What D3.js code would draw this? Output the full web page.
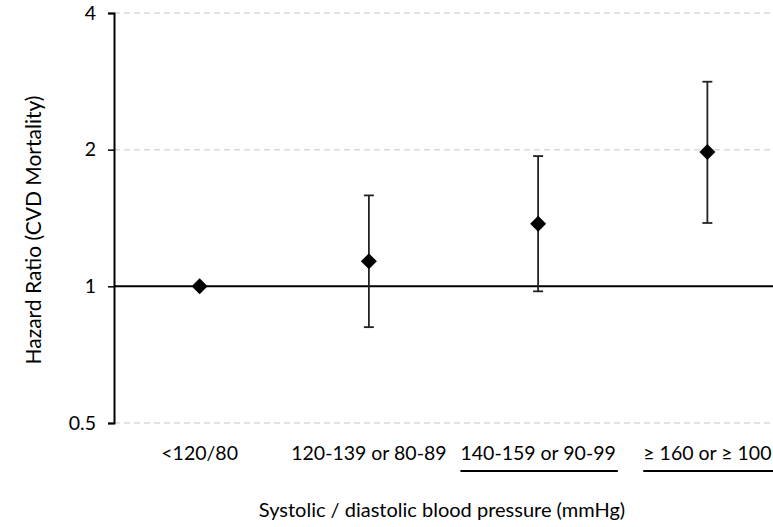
<!DOCTYPE html>
<html>
<head>
<meta charset="utf-8">
<script src="https://cdn.jsdelivr.net/npm/d3@7"></script>
<style>
  html, body { margin: 0; padding: 0; background: #fff; }
  svg { display: block; font-family: Lato, "Open Sans", sans-serif; }
</style>
</head>
<body>
<svg id="chart" width="773" height="527"></svg>
<script>
const categories = ["<120/80", "120-139 or 80-89", "140-159 or 90-99", "\u2265 160 or \u2265 100"];
const hazardRatio = [1.0, 1.135, 1.374, 1.976];
const lowerCI = [null, 0.813, 0.975, 1.379];
const upperCI = [null, 1.586, 1.936, 2.823];
const yTicks = [0.5, 1, 2, 4];
const underlined = [false, false, true, true];

const svg = d3.select("#chart");
const W = 773, H = 527;
const plotLeft = 114, plotRight = 773, plotTop = 13, plotBottom = 423;

const x = d3.scaleBand().domain(categories).range([115, 792]).padding(0);
const y = d3.scaleLog().base(2).domain([0.5, 4]).range([plotBottom, plotTop]);

// grid lines
svg.append("g").selectAll("line").data(yTicks.filter(d => d !== 1)).join("line")
  .attr("x1", plotLeft).attr("x2", plotRight)
  .attr("y1", d => y(d)).attr("y2", d => y(d))
  .attr("stroke", "#d9d9d9").attr("stroke-width", 1.5)
  .attr("stroke-dasharray", "6,4");

// reference line at 1
svg.append("line")
  .attr("x1", plotLeft).attr("x2", plotRight)
  .attr("y1", y(1)).attr("y2", y(1))
  .attr("stroke", "#000").attr("stroke-width", 2);

// y axis
const yAxis = d3.axisLeft(y).tickValues(yTicks).tickFormat(d3.format("")).tickSizeOuter(0).tickSize(6).tickPadding(12);
const gy = svg.append("g").attr("transform", `translate(${plotLeft},0)`).call(yAxis);
gy.select(".domain").attr("stroke", "#000").attr("stroke-width", 2);
gy.selectAll(".tick line").attr("stroke", "#000").attr("stroke-width", 1.5);
gy.selectAll(".tick text").attr("font-size", 19.5).attr("fill", "#000").attr("font-family", "Lato, sans-serif");

// x tick labels
const xl = svg.append("g");
const labels = xl.selectAll("text").data(categories).join("text")
  .attr("x", d => x(d) + x.bandwidth() / 2)
  .attr("y", 460)
  .attr("text-anchor", "middle")
  .attr("font-size", 19.5)
  .attr("fill", "#000")
  .text(d => d);
labels.each(function(d, i) {
  if (!underlined[i]) return;
  const bb = this.getBBox();
  xl.append("line")
    .attr("x1", bb.x).attr("x2", Math.min(bb.x + bb.width + 2, W + 10))
    .attr("y1", 471).attr("y2", 471)
    .attr("stroke", "#000").attr("stroke-width", 2);
});

// error bars
const bars = categories.map((c, i) => ({c, v: hazardRatio[i], lo: lowerCI[i], hi: upperCI[i]})).filter(d => d.lo != null);
const eb = svg.append("g");
eb.selectAll("line.whisker").data(bars).join("line").attr("class", "whisker")
  .attr("x1", d => x(d.c) + x.bandwidth() / 2).attr("x2", d => x(d.c) + x.bandwidth() / 2)
  .attr("y1", d => y(d.hi)).attr("y2", d => y(d.lo))
  .attr("stroke", "#222").attr("stroke-width", 1.8);
eb.selectAll("line.capHi").data(bars).join("line").attr("class", "capHi")
  .attr("x1", d => x(d.c) + x.bandwidth() / 2 - 5).attr("x2", d => x(d.c) + x.bandwidth() / 2 + 5)
  .attr("y1", d => y(d.hi)).attr("y2", d => y(d.hi))
  .attr("stroke", "#222").attr("stroke-width", 1.8);
eb.selectAll("line.capLo").data(bars).join("line").attr("class", "capLo")
  .attr("x1", d => x(d.c) + x.bandwidth() / 2 - 5).attr("x2", d => x(d.c) + x.bandwidth() / 2 + 5)
  .attr("y1", d => y(d.lo)).attr("y2", d => y(d.lo))
  .attr("stroke", "#222").attr("stroke-width", 1.8);

// diamonds
svg.append("g").selectAll("path").data(categories.map((c, i) => ({c, v: hazardRatio[i]}))).join("path")
  .attr("transform", d => `translate(${x(d.c) + x.bandwidth() / 2},${y(d.v)})`)
  .attr("d", "M0,-8L8,0L0,8L-8,0Z")
  .attr("fill", "#000");

// axis titles
svg.append("text")
  .attr("x", 442).attr("y", 517)
  .attr("text-anchor", "middle").attr("font-size", 20).attr("fill", "#000")
  .text("Systolic / diastolic blood pressure (mmHg)");
svg.append("text")
  .attr("transform", "translate(41,230) rotate(-90)")
  .attr("text-anchor", "middle").attr("font-size", 21).attr("fill", "#000")
  .text("Hazard Ratio (CVD Mortality)");
</script>
</body>
</html>
